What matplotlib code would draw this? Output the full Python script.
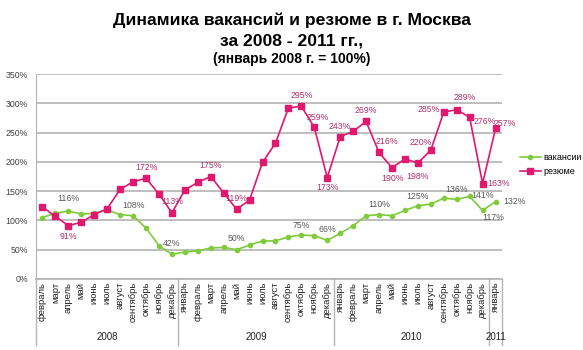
import matplotlib
matplotlib.use("Agg")
import matplotlib.pyplot as plt
import matplotlib.transforms as mtransforms
from matplotlib.ticker import FuncFormatter

plt.rcParams['font.family'] = ['Liberation Sans', 'DejaVu Sans']

# months from Feb 2008 to Jan 2011
months = ["февраль", "март", "апрель", "май", "июнь", "июль", "август",
          "сентябрь", "октябрь", "ноябрь", "декабрь",
          "январь", "февраль", "март", "апрель", "май", "июнь", "июль",
          "август", "сентябрь", "октябрь", "ноябрь", "декабрь",
          "январь", "февраль", "март", "апрель", "май", "июнь", "июль",
          "август", "сентябрь", "октябрь", "ноябрь", "декабрь",
          "январь"]
years = ["2008", "2009", "2010", "2011"]
year_sizes = [11, 12, 12, 1]

vacancies = [105, 112, 116, 111, 112, 118, 110, 108, 87, 57, 42,
             46, 48, 53, 54, 50, 58, 65, 65, 72, 75, 74, 66,
             78, 91, 108, 110, 108, 117, 125, 128, 138, 136, 141, 117,
             132]
resumes = [123, 107, 91, 97, 110, 120, 153, 166, 172, 145, 113,
           152, 165, 175, 147, 119, 135, 199, 232, 292, 295, 259, 173,
           243, 252, 269, 216, 190, 205, 198, 220, 285, 289, 276, 163,
           257]

# which points carry a data label, and label offset in pixels (dx, dy)
vac_lab = {2: (0, 13), 7: (0, 10), 10: (0, 11), 15: (0, 11), 20: (0, 10),
           22: (0, 11), 26: (0, 10), 29: (0, 9), 32: (0, 10), 33: (13, 1),
           34: (11, -7), 35: (19, 0)}
res_lab = {2: (0, -11), 8: (0, 11), 10: (0, 11), 13: (0, 11), 15: (0, 11),
           20: (0, 11), 21: (3, 10), 22: (0, -10), 23: (0, 10), 25: (0, 11),
           26: (8, 11), 27: (0, -11), 29: (0, -13), 30: (-10, 8),
           31: (-15, 3), 32: (8, 12), 33: (15, -4), 34: (16, 0), 35: (9, 5)}

green = '#7fcb3b'
pink = '#e0186e'

fig = plt.figure(figsize=(5.83, 3.5), dpi=100)
ax = fig.add_axes([36/583, 71/350, 466/583, 205/350])

x = list(range(len(months)))
ax.plot(x, vacancies, color=green, lw=1.2, marker='o', ms=3, label='вакансии')
ax.plot(x, resumes, color=pink, lw=1.2, marker='s', ms=4.5, label='резюме')

for i, (dx, dy) in vac_lab.items():
    ax.annotate(f"{vacancies[i]}%", (i, vacancies[i]), xytext=(dx, dy),
                textcoords='offset pixels', ha='center', va='center',
                fontsize=6.3, color='#595959')
for i, (dx, dy) in res_lab.items():
    ax.annotate(f"{resumes[i]}%", (i, resumes[i]), xytext=(dx, dy),
                textcoords='offset pixels', ha='center', va='center',
                fontsize=6.3, color='#b0306c')

ax.set_xlim(-0.5, len(months) - 0.5)
ax.set_ylim(0, 350)
ax.set_yticks(range(0, 351, 50))
ax.yaxis.set_major_formatter(FuncFormatter(lambda v, p: f"{int(v)}%"))
ax.yaxis.grid(True, color='#b3b3b3', lw=1.2)
ax.set_axisbelow(True)
for s in ['top', 'right']:
    ax.spines[s].set_visible(False)
ax.spines['left'].set_color('#b3b3b3')
ax.spines['bottom'].set_color('#b3b3b3')
ax.spines['bottom'].set_linewidth(1.2)

ax.set_xticks(x)
ax.set_xticklabels(months, rotation=90, fontsize=6.8, color='#222222')
ax.tick_params(axis='x', length=0, pad=2)
ax.tick_params(axis='y', length=0, labelsize=6.3, labelcolor='#444444', pad=6)

# year groups under the month labels
trans = mtransforms.blended_transform_factory(ax.transData, ax.transAxes)
start = -0.5
for yr, n in zip(years, year_sizes):
    ax.plot([start, start], [0, -0.322], transform=trans, color='#b3b3b3',
            lw=1, clip_on=False)
    ax.text(start + n / 2, -0.285, yr, transform=trans, ha='center',
            va='center', fontsize=7, color='#222222')
    start += n
ax.plot([start, start], [0, -0.322], transform=trans, color='#b3b3b3',
        lw=1, clip_on=False)

fig.legend(loc='upper left', bbox_to_anchor=(0.878, 0.585), frameon=False,
           fontsize=6.5, handlelength=2.3, handletextpad=0.3,
           labelspacing=0.55)

fig.text(0.5, 1 - 20/350, "Динамика вакансий и резюме в г. Москва",
         ha='center', va='center', fontsize=12.6, fontweight='bold')
fig.text(0.5, 1 - 41/350, "за 2008 - 2011 гг.,", ha='center', va='center',
         fontsize=12.6, fontweight='bold')
fig.text(0.5, 1 - 59/350, "(январь 2008 г. = 100%)", ha='center',
         va='center', fontsize=10, fontweight='bold')

fig.savefig('out.png', dpi=100)
